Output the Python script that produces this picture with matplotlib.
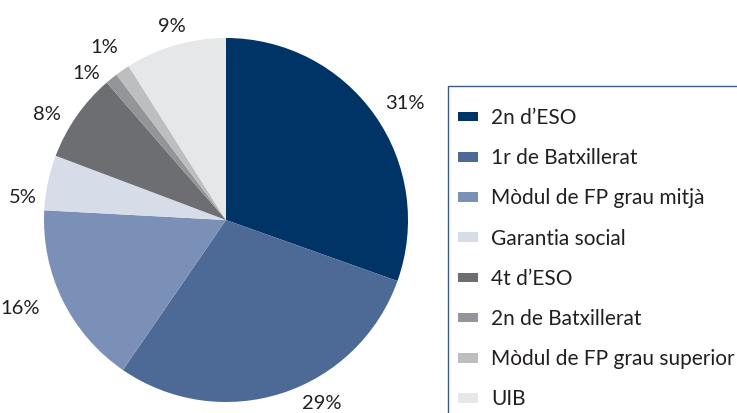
import matplotlib
matplotlib.use("Agg")
import numpy as np
import matplotlib.pyplot as plt
from matplotlib.patches import Patch, Rectangle

# dades
categories = ["2n d\u2019ESO", "1r de Batxillerat", "M\u00f2dul de FP grau mitj\u00e0",
              "Garantia social", "4t d\u2019ESO", "2n de Batxillerat",
              "M\u00f2dul de FP grau superior", "UIB"]
values = [30.5, 29.2, 16.3, 4.9, 7.9, 1.1, 1.3, 9.0]
labels = ["31%", "29%", "16%", "5%", "8%", "1%", "1%", "9%"]
colors = ["#003366", "#4d6a96", "#7b90b6", "#d6dce8",
          "#6d6e71", "#939598", "#bcbec0", "#e6e7e8"]

# posició de les etiquetes (angle en graus, distància en px des del centre)
label_angle = [33.6, -62.1, 202.7, 173.0, 148.9, 133.2, 124.9, 105.4]
label_dist = [215, 205, 223, 205, 209, 204, 213, 203]

plt.rcParams['font.family'] = ['Lato', 'DejaVu Sans']
text_color = "#231f20"

W, H = 737, 413
fig = plt.figure(figsize=(W / 100, H / 100), dpi=100)
ax = fig.add_axes([0, 0, 1, 1])

# pastís
cx, cy, r = 226, H - 220, 182
wedges, texts = ax.pie(values, colors=colors, labels=labels, startangle=90,
                       counterclock=False, center=(cx, cy), radius=r,
                       textprops=dict(fontsize=14.5, color=text_color,
                                      ha='center', va='center'),
                       wedgeprops=dict(linewidth=0))
ly = H - 222  # centre de referència de les etiquetes
for t, a, d in zip(texts, label_angle, label_dist):
    t.set_position((cx + d * np.cos(np.radians(a)), ly + d * np.sin(np.radians(a))))
    t.set_ha('center')
    t.set_va('center')
ax.set_xlim(0, W)
ax.set_ylim(0, H)
ax.axis('off')

# marc de la llegenda
fig.patches.append(Rectangle((448 / W, -0.05), 0.5, 1 - 86 / H + 0.05,
                             transform=fig.transFigure, fill=False,
                             edgecolor="#3d5a80", linewidth=1))

handles = [Patch(facecolor=c, edgecolor='none') for c in colors]
fig.legend(handles, categories, loc='upper left',
           bbox_to_anchor=(458 / W, 1 - 108 / H), frameon=False,
           fontsize=15, labelcolor=text_color, borderpad=0, borderaxespad=0,
           handlelength=0.96, handleheight=0.34, handletextpad=0.62,
           labelspacing=0.97)

fig.savefig("out.png", dpi=100)
